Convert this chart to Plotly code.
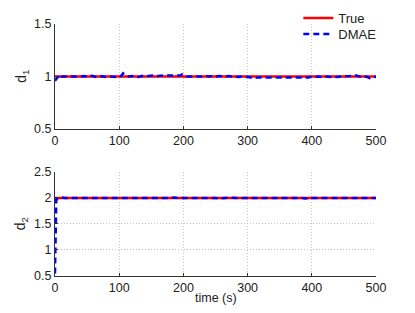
import plotly.graph_objects as go
from plotly.subplots import make_subplots

t_true = [0, 500]
d1_true = [1.0, 1.0]
d2_true = [2.0, 2.0]

t1 = [0, 2, 5, 8, 10, 15, 20, 25, 30, 35, 40, 45, 50, 55, 60, 65, 70, 75, 80, 85, 90, 95, 100,
      103, 106, 110, 115, 120, 125, 130, 135, 140, 145, 150, 155, 160, 165, 170, 175, 180, 185, 190, 195,
      198, 202, 205, 210, 215, 220, 225, 230, 235, 240, 245, 250, 255, 260, 265, 270, 275, 280, 285,
      290, 295, 300, 305, 310, 315, 320, 325, 330, 335, 340, 345, 350, 355, 360, 365, 370, 375, 380,
      385, 390, 395, 400, 405, 410, 415, 420, 425, 430, 435, 440, 445, 450, 455, 460, 465, 470, 475,
      480, 485, 490, 495, 500]
d1_est = [0.96, 0.98, 1.0, 1.02, 1.0, 1.0, 1.0, 1.0, 1.0, 0.995, 1.0, 1.005, 1.0, 1.01, 1.0, 0.995,
          1.005, 1.0, 0.995, 1.0, 1.0, 1.0, 0.995, 1.005, 1.03, 1.01, 1.0, 1.005, 1.0, 0.995, 1.005,
          1.01, 1.005, 1.01, 1.01, 1.005, 1.01, 1.01, 1.01, 1.01, 1.01, 1.01, 1.01, 1.02, 1.015, 1.0,
          1.0, 1.0, 1.0, 0.995, 1.0, 1.005, 1.0, 1.005, 1.0, 1.005, 1.0, 1.0, 1.005, 1.0, 1.0, 0.995,
          1.0, 1.0, 0.995, 0.99, 0.985, 0.99, 0.99, 0.985, 0.99, 0.99, 0.99, 0.99, 0.985, 0.99, 0.99,
          0.99, 0.99, 0.99, 0.99, 0.985, 0.99, 0.99, 1.0, 0.995, 1.0, 0.995, 1.0, 0.995, 0.995, 1.0,
          0.995, 1.0, 1.0, 1.005, 1.005, 1.015, 1.005, 1.0, 0.995, 1.0, 0.985, 1.0, 0.995]

t2 = [0, 1, 2, 4, 6, 8, 10, 15, 20, 25, 30, 35, 40, 45, 50, 55, 60, 65, 70, 75, 80, 85, 90, 95, 100,
      105, 110, 115, 120, 125, 130, 135, 140, 145, 150, 155, 160, 165, 170, 175, 180, 185, 190, 195,
      200, 205, 210, 215, 220, 225, 230, 235, 240, 245, 250, 255, 260, 265, 270, 275, 280, 285, 290,
      295, 300, 305, 310, 315, 320, 325, 330, 335, 340, 345, 350, 355, 360, 365, 370, 375, 380, 385,
      390, 395, 400, 405, 410, 415, 420, 425, 430, 435, 440, 445, 450, 455, 460, 465, 470, 475, 480,
      485, 490, 495, 500]
d2_est = [0.55, 1.96, 1.97, 1.98, 1.98, 2.0, 2.01, 2.0, 2.0, 2.005, 2.0, 1.995, 2.0, 2.0, 1.995,
          2.005, 2.0, 2.0, 2.005, 2.0, 2.0, 1.995, 2.0, 2.0, 2.0, 1.995, 2.0, 2.0, 1.995, 2.0, 2.005,
          2.0, 2.0, 2.0, 1.995, 2.0, 2.0, 2.0, 1.995, 2.0, 2.0, 2.01, 2.0, 1.995, 2.0, 2.0, 2.0, 2.0,
          2.0, 1.995, 2.0, 2.0, 2.005, 2.0, 2.0, 1.99, 2.0, 2.0, 2.005, 2.0, 2.0, 2.0, 2.0, 2.0, 2.0,
          1.995, 2.0, 2.0, 2.0, 1.995, 2.0, 2.0, 2.005, 2.0, 2.0, 2.0, 1.995, 2.0, 2.0, 2.0, 2.0, 2.0,
          1.99, 2.0, 2.0, 2.0, 2.005, 2.0, 2.0, 2.0, 2.0, 2.0, 2.0, 2.0, 2.0, 2.0, 2.0, 2.0, 2.005,
          2.0, 2.0, 2.005, 2.0, 1.995, 2.0]

x_ticks = [0, 100, 200, 300, 400, 500]
y1_ticks = [0.5, 1, 1.5]
y2_ticks = [0.5, 1, 1.5, 2, 2.5]

RED = "#ff0000"
BLUE = "#0000ff"
FONT = "Liberation Sans, Arial, sans-serif"
TXT = "#222222"

fig = make_subplots(rows=2, cols=1, vertical_spacing=0.17)

fig.add_trace(go.Scatter(x=t_true, y=d1_true, mode="lines", name="True", legend="legend",
                         line=dict(color=RED, width=2.5)), row=1, col=1)
fig.add_trace(go.Scatter(x=t1, y=d1_est, mode="lines", name="DMAE", legend="legend2",
                         line=dict(color=BLUE, width=2.5, dash="6px,4px")), row=1, col=1)
fig.add_trace(go.Scatter(x=t_true, y=d2_true, mode="lines", name="True", showlegend=False,
                         line=dict(color=RED, width=2.5)), row=2, col=1)
fig.add_trace(go.Scatter(x=t2, y=d2_est, mode="lines", name="DMAE", showlegend=False,
                         line=dict(color=BLUE, width=2.5, dash="6px,4px")), row=2, col=1)

axis_common = dict(showgrid=True, gridcolor="#c4c4c4", griddash="1px,2px", gridwidth=1,
                   showline=True, linecolor="#333333", linewidth=1, ticks="inside",
                   ticklen=3, tickcolor="#333333", zeroline=False, automargin=False,
                   tickfont=dict(family=FONT, size=12.5, color=TXT))

fig.update_xaxes(range=[0, 500], tickvals=x_ticks, **axis_common)
fig.update_xaxes(domain=[0, 1])
fig.update_yaxes(**axis_common)
fig.update_yaxes(range=[0.5, 1.5], tickvals=y1_ticks, ticktext=["0.5", "1", "1.5"],
                 domain=[0.583, 1.0], row=1, col=1)
fig.update_yaxes(range=[0.5, 2.5], tickvals=y2_ticks, ticktext=["0.5", "1", "1.5", "2", "2.5"],
                 domain=[0.0, 0.413], row=2, col=1)

title_font = dict(family=FONT, size=14, color=TXT)
fig.add_annotation(text="d<sub>1</sub>", xref="paper", yref="y domain", x=-0.105, y=0.5,
                   textangle=-90, showarrow=False, xanchor="center", yanchor="middle", font=title_font)
fig.add_annotation(text="d<sub>2</sub>", xref="paper", yref="y2 domain", x=-0.105, y=0.5,
                   textangle=-90, showarrow=False, xanchor="center", yanchor="middle", font=title_font)
fig.add_annotation(text="time (s)", xref="x2 domain", yref="paper", x=0.5, y=0,
                   yshift=-13, showarrow=False, yanchor="top", xanchor="center",
                   font=dict(family=FONT, size=12.5, color=TXT))

leg_common = dict(xanchor="left", yanchor="middle", bgcolor="rgba(0,0,0,0)",
                  font=dict(family=FONT, size=13, color=TXT), itemwidth=30, borderwidth=0)

fig.update_layout(
    width=407, height=305,
    margin=dict(l=47, r=39, t=16, b=37, autoexpand=False),
    paper_bgcolor="white", plot_bgcolor="white",
    font=dict(family=FONT, size=13, color=TXT),
    legend=dict(x=0.758, y=1.024, **leg_common),
    legend2=dict(x=0.758, y=0.960, **leg_common),
)

fig.write_html("out.html")
